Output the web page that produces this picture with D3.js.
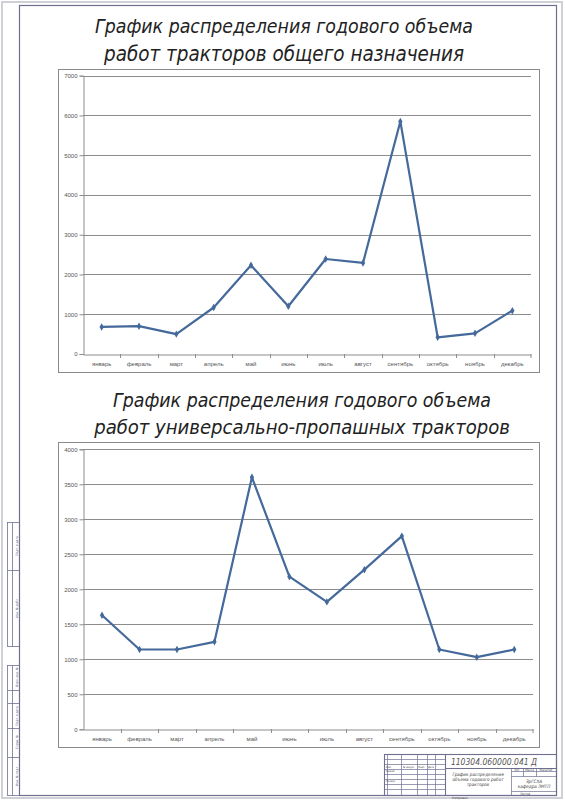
<!DOCTYPE html>
<html><head><meta charset="utf-8">
<script src="https://cdn.jsdelivr.net/npm/d3@7"></script>
<style>body{margin:0;background:#fff}svg{display:block}</style>
</head><body>
<svg id="c" width="565" height="800"></svg>
<script>
// ---- data ----
const months = ["январь","февраль","март","апрель","май","июнь","июль","август","сентябрь","октябрь","ноябрь","декабрь"];
const generalValues = [680, 700, 500, 1170, 2230, 1200, 2390, 2290, 5850, 420, 520, 1090];
const rowCropValues = [1630, 1140, 1140, 1250, 3600, 2180, 1820, 2280, 2760, 1140, 1030, 1140];
const generalTicks = [0, 1000, 2000, 3000, 4000, 5000, 6000, 7000];
const rowCropTicks = [0, 500, 1000, 1500, 2000, 2500, 3000, 3500, 4000];
const title1 = ["График распределения годового объема", "работ тракторов общего назначения"];
const title2 = ["График распределения годового объема", "работ универсально-пропашных тракторов"];
const stampCode = "110304.060000.041 Д";
const stampName = ["График распределения", "объема годового работ", "тракторов"];
const stampOrg = ["ЗрГСХА", "кафедра ЭМТП"];

const svg = d3.select("#c");
const LINE = "#44699a";
const FRAME = "#6f6f92";
const TF = "'Liberation Sans Narrow','DejaVu Sans Condensed',sans-serif";

// page edge and drawing frame
svg.append("rect").attr("x",2).attr("y",2).attr("width",560).attr("height",796)
  .attr("fill","none").attr("stroke","#cfcfd6").attr("stroke-width",2);
svg.append("rect").attr("x",19.5).attr("y",5.5).attr("width",537).attr("height",790)
  .attr("fill","none").attr("stroke",FRAME).attr("stroke-width",1.2);

// titles: font size chosen so the line spans the measured width
function drawTitle(lines, specs){
  lines.forEach((t,i)=>{
    const s = specs[i];
    const el = svg.append("text").text(t)
      .attr("x", s.x + s.w/2).attr("y", s.y).attr("text-anchor","middle")
      .attr("font-family",TF).attr("font-style","italic")
      .attr("font-size",24).attr("fill","#222");
    const w = el.node().getComputedTextLength();
    el.attr("font-size", 24 * s.w / w);
  });
}
drawTitle(title1, [{x:95,y:33,w:378},{x:104,y:61,w:360}]);
drawTitle(title2, [{x:113,y:407,w:378},{x:94,y:434,w:416}]);

// chart drawing
function drawChart(box, plot, values, ticks){
  const g = svg.append("g");
  g.append("rect").attr("x",box.x+0.5).attr("y",box.y+0.5).attr("width",box.w).attr("height",box.h)
    .attr("fill","#fff").attr("stroke","#8a8a8a").attr("stroke-width",1);
  const x = d3.scaleBand().domain(months).range([plot.l, plot.r]).padding(0);
  const y = d3.scaleLinear().domain([0, d3.max(ticks)]).range([plot.b, plot.t]);
  const cx = m => x(m) + x.bandwidth()/2;
  // gridlines
  g.selectAll(".grid").data(ticks.filter(t=>t>0)).join("line")
    .attr("x1", plot.l).attr("x2", plot.r)
    .attr("y1", d=>Math.round(y(d))+0.5).attr("y2", d=>Math.round(y(d))+0.5)
    .attr("stroke","#8c8c8c").attr("stroke-width",1);
  // y axis
  const ya = d3.axisLeft(y).tickValues(ticks).tickSize(4).tickFormat(d3.format("d"));
  const yg = g.append("g").attr("transform",`translate(${Math.round(plot.l)+0.5},0)`).call(ya);
  yg.select(".domain").attr("stroke","#8c8c8c");
  yg.selectAll(".tick line").attr("stroke","#8c8c8c");
  yg.selectAll(".tick text").attr("font-family","'Liberation Sans',Arial,sans-serif")
    .attr("font-size",6).attr("fill","#555").attr("x",-6);
  // x axis
  const xa = d3.axisBottom(x).tickSize(0).tickPadding(7);
  const xg = g.append("g").attr("transform",`translate(0,${Math.round(plot.b)+0.5})`).call(xa);
  xg.select(".domain").attr("stroke","#8c8c8c");
  xg.selectAll(".tick text").attr("font-family","'Liberation Sans',Arial,sans-serif")
    .attr("font-size",6).attr("fill","#555");
  // category separator ticks
  g.selectAll(".sep").data(months.slice(1).concat(["_end"])).join("line")
    .attr("x1", d=> d==="_end" ? plot.r : Math.round(x(d))+0.5)
    .attr("x2", d=> d==="_end" ? plot.r : Math.round(x(d))+0.5)
    .attr("y1", Math.round(plot.b)).attr("y2", Math.round(plot.b)+4)
    .attr("stroke","#8c8c8c");
  // line
  const pts = months.map((m,i)=>[cx(m), y(values[i])]);
  g.append("path").attr("d", d3.line()(pts)).attr("fill","none")
    .attr("stroke",LINE).attr("stroke-width",2.2).attr("stroke-linejoin","round");
  g.selectAll(".mk").data(pts).join("path")
    .attr("d", d3.symbol().type(d3.symbolDiamond).size(16))
    .attr("transform", d=>`translate(${d[0]},${d[1]})`).attr("fill",LINE);
}

drawChart({x:58,y:69,w:481,h:303},{l:83,r:531,t:75.7,b:354}, generalValues, generalTicks);
drawChart({x:58,y:442,w:481,h:305},{l:83.3,r:533,t:449.3,b:729.3}, rowCropValues, rowCropTicks);

// ---- title block (stamp) ----
const st = svg.append("g").attr("stroke",FRAME).attr("fill","none").attr("stroke-width",0.7);
st.append("rect").attr("x",384.5).attr("y",754.5).attr("width",172).attr("height",41).attr("stroke-width",1.1);
[387,401,417,427,435].forEach(v=>st.append("line").attr("x1",v+0.5).attr("x2",v+0.5).attr("y1",755).attr("y2",795));
[759,764,769,774,779,784,789].forEach(v=>st.append("line").attr("x1",384.5).attr("x2",445.5).attr("y1",v+0.5).attr("y2",v+0.5));
st.append("line").attr("x1",445.5).attr("x2",445.5).attr("y1",754.5).attr("y2",795.5).attr("stroke-width",1.1);
st.append("line").attr("x1",445.5).attr("x2",556.5).attr("y1",768.5).attr("y2",768.5).attr("stroke-width",1.1);
st.append("line").attr("x1",511.5).attr("x2",511.5).attr("y1",768.5).attr("y2",795.5);
st.append("line").attr("x1",511.5).attr("x2",556.5).attr("y1",771.5).attr("y2",771.5);
st.append("line").attr("x1",511.5).attr("x2",556.5).attr("y1",776.5).attr("y2",776.5);
st.append("line").attr("x1",511.5).attr("x2",556.5).attr("y1",791.5).attr("y2",791.5);
[523,536].forEach(v=>st.append("line").attr("x1",v+0.5).attr("x2",v+0.5).attr("y1",768.5).attr("y2",776.5));
function stext(t,x,y,fs,anchor,fill){
  svg.append("text").text(t).attr("x",x).attr("y",y).attr("font-size",fs)
    .attr("font-family",TF).attr("font-style","italic").attr("fill",fill||"#444")
    .attr("text-anchor",anchor||"start");
}
stext(stampCode, 494, 765, 8.5, "middle", "#555");
stampName.forEach((t,i)=>stext(t, 478, 776+i*5, 4.6, "middle"));
stampOrg.forEach((t,i)=>stext(t, 534, 783+i*5, 4.6, "middle"));
stext("Лит.",517,771,3,"middle"); stext("Масса",529.5,771,3,"middle"); stext("Масштаб",546,771,3,"middle");
stext("Изм.",386,768,2.6); stext("№ докум.",403,768,2.6); stext("Подп.",418,768,2.6); stext("Дата",428,768,2.6);
stext("Разраб.",386,772,2.6); stext("Провер.",386,782,2.6);
stext("Листов",520,795,3); stext("Копировал",452,799,3);

// ---- left margin stamp ----
const lm = svg.append("g").attr("stroke",FRAME).attr("fill","none").attr("stroke-width",0.8);
lm.append("rect").attr("x",7.5).attr("y",522.5).attr("width",12).attr("height",124);
lm.append("line").attr("x1",7.5).attr("x2",19.5).attr("y1",570.5).attr("y2",570.5);
lm.append("line").attr("x1",12.5).attr("x2",12.5).attr("y1",522.5).attr("y2",646.5);
lm.append("rect").attr("x",7.5).attr("y",665.5).attr("width",12).attr("height",130);
[690,703,728,757].forEach(v=>lm.append("line").attr("x1",7.5).attr("x2",19.5).attr("y1",v+0.5).attr("y2",v+0.5));
lm.append("line").attr("x1",12.5).attr("x2",12.5).attr("y1",665.5).attr("y2",795.5);
function vtext(t,x,y){
  svg.append("text").text(t).attr("transform",`translate(${x},${y}) rotate(-90)`)
    .attr("font-size",3.2).attr("font-family",TF).attr("font-style","italic").attr("fill","#555")
    .attr("text-anchor","middle");
}
vtext("Подп. и дата",17.5,546); vtext("Инв. № дубл.",17.5,608);
vtext("Взам. инв. №",17.5,677); vtext("Подп. и дата",17.5,716); vtext("Инв. № подл.",17.5,776);
vtext("Справ. №",17.5,742);
</script>
</body></html>
